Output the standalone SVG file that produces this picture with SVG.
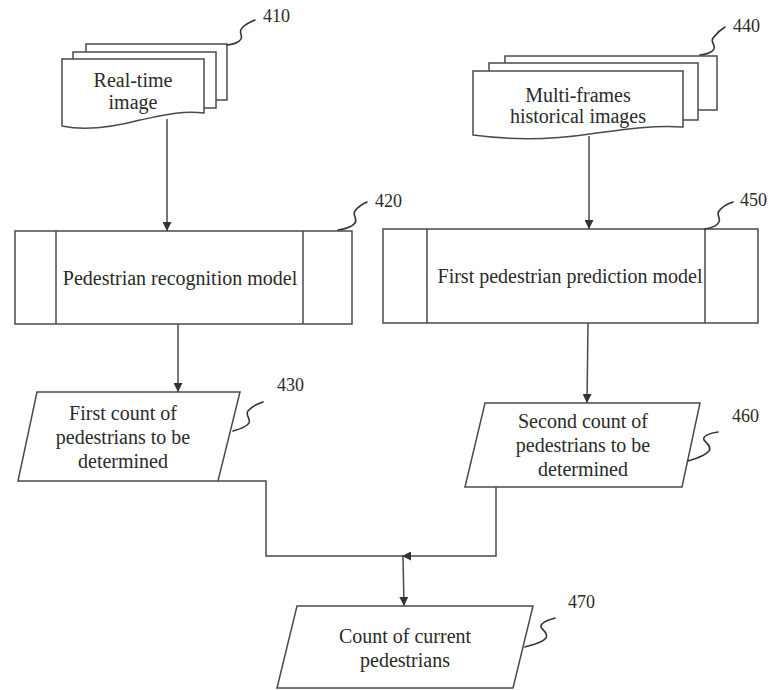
<svg xmlns="http://www.w3.org/2000/svg" width="772" height="690" viewBox="0 0 772 690">
<defs>
<style>
.s{fill:#fff;stroke:#4a4a4a;stroke-width:1.5}
.l{fill:none;stroke:#4a4a4a;stroke-width:1.5}
.q{fill:none;stroke:#333;stroke-width:1.6;stroke-linecap:round}
.t{font-family:"Liberation Serif","Times New Roman",serif;font-size:20px;fill:#2a2a2a;text-anchor:middle}
.n{font-family:"Liberation Serif","Times New Roman",serif;font-size:18px;fill:#2a2a2a}
</style>
<marker id="ah" viewBox="0 0 10 10" refX="10" refY="5" markerWidth="9" markerHeight="9" markerUnits="userSpaceOnUse" orient="auto">
<path d="M0,0 L10,5 L0,10 Z" fill="#333"/>
</marker>
</defs>

<g id="connectors">
<path class="l" d="M167,119 V231" marker-end="url(#ah)"/>
<path class="l" d="M178,324 V392" marker-end="url(#ah)"/>
<path class="l" d="M589,136 V229" marker-end="url(#ah)"/>
<path class="l" d="M588,323 L587,403" marker-end="url(#ah)"/>
<path class="l" d="M218,481 H266 V556 H403"/>
<path class="l" d="M496,487 V556 H402" marker-end="url(#ah)"/>
<path class="l" d="M403,556 L404,606" marker-end="url(#ah)"/>
</g>

<g id="n410">
<rect class="s" x="86" y="44" width="141" height="56"/>
<rect class="s" x="73" y="52" width="143" height="56"/>
<path class="s" d="M62,59 H204 V113 C180,110 160,116 140,120 C110,128 85,131 62,126 Z"/>
<text class="t" x="133" y="87">Real-time</text>
<text class="t" x="133" y="109">image</text>
<path class="q" d="M227,45 C233,44 239,43 241,39 C243,35 238,32 242,28 C245,24 250,22 255,20"/>
<text class="n" x="263" y="22">410</text>
</g>

<g id="n440">
<rect class="s" x="505" y="56" width="212" height="54"/>
<rect class="s" x="489" y="63" width="209" height="57"/>
<path class="s" d="M473,71 H683 V127 C650,125 620,130 590,134 C550,140 510,140 473,135 Z"/>
<text class="t" x="578" y="102">Multi-frames</text>
<text class="t" x="578" y="123">historical images</text>
<path class="q" d="M700,55 C706,54 712,53 714,49 C716,45 710,42 713,38 C716,34 720,30 725,27"/>
<text class="n" x="733" y="32">440</text>
</g>

<g id="n420">
<rect class="s" x="15" y="231" width="337" height="93"/>
<path class="l" d="M56,231 V324 M303,231 V324"/>
<text class="t" x="180" y="285">Pedestrian recognition model</text>
<path class="q" d="M338,230 C345,229 352,227 355,223 C358,219 352,215 355,211 C358,207 362,204 367,202"/>
<text class="n" x="375" y="207">420</text>
</g>

<g id="n450">
<rect class="s" x="383" y="229" width="375" height="94"/>
<path class="l" d="M427,229 V323 M705,229 V323"/>
<text class="t" x="570" y="283">First pedestrian prediction model</text>
<path class="q" d="M705,229 C711,228 717,226 719,222 C721,218 716,215 719,211 C722,207 727,204 733,202"/>
<text class="n" x="740" y="206">450</text>
</g>

<g id="n430">
<path class="s" d="M37,392 H240 L218,481 H18 Z"/>
<text class="t" x="123" y="420">First count of</text>
<text class="t" x="123" y="444">pedestrians to be</text>
<text class="t" x="123" y="468">determined</text>
<path class="q" d="M233,431 C240,429 247,427 249,423 C251,419 245,415 248,411 C251,407 257,404 263,402"/>
<text class="n" x="277" y="391">430</text>
</g>

<g id="n460">
<path class="s" d="M485,403 H700 L682,487 H465 Z"/>
<text class="t" x="583" y="428">Second count of</text>
<text class="t" x="583" y="452">pedestrians to be</text>
<text class="t" x="583" y="476">determined</text>
<path class="q" d="M688,461 C695,459 705,456 709,451 C712,446 706,443 704,440 C702,436 710,433 718,432"/>
<text class="n" x="732" y="422">460</text>
</g>

<g id="n470">
<path class="s" d="M297,606 H533 L513,688 H277 Z"/>
<text class="t" x="405" y="643">Count of current</text>
<text class="t" x="405" y="667">pedestrians</text>
<path class="q" d="M525,647 C532,645 542,643 546,638 C549,633 542,630 541,627 C540,623 548,620 555,618"/>
<text class="n" x="568" y="608">470</text>
</g>
</svg>
